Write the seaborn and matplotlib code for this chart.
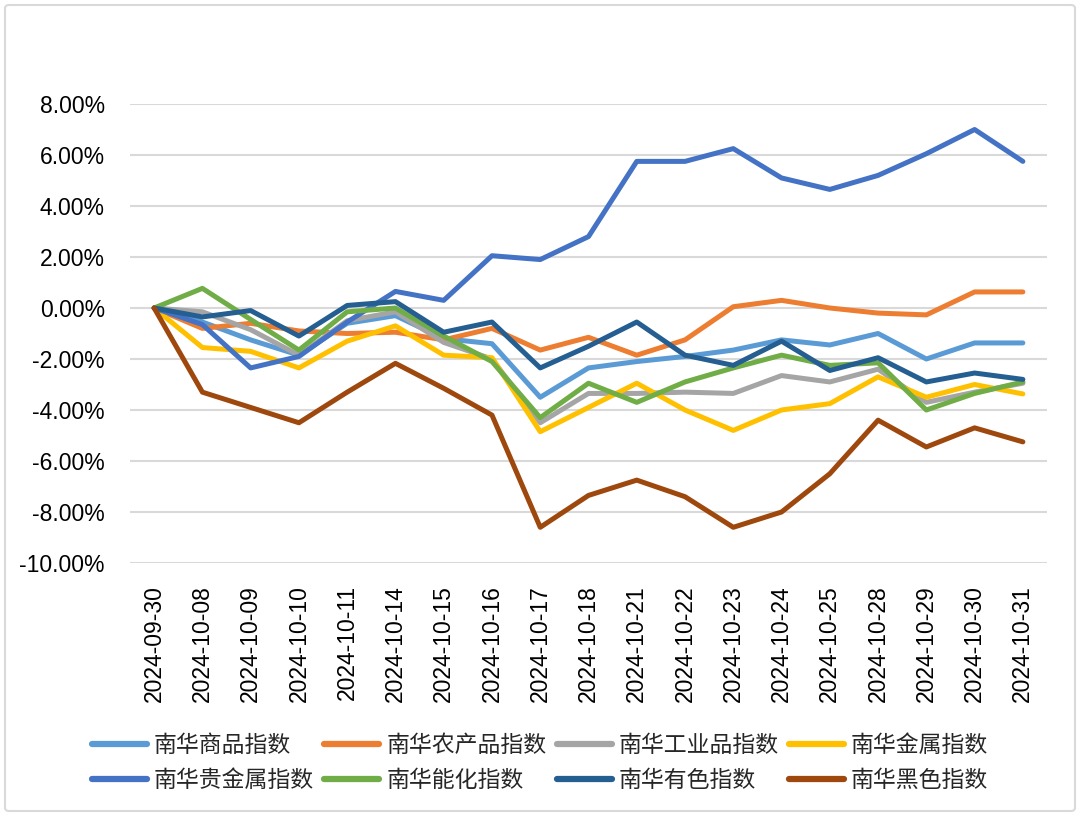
import numpy as np
import pandas as pd
import matplotlib
matplotlib.use("Agg")
import matplotlib.pyplot as plt
import matplotlib.patches as mpatches
from matplotlib.ticker import FuncFormatter
import seaborn as sns

dates = ['2024-09-30', '2024-10-08', '2024-10-09', '2024-10-10', '2024-10-11',
         '2024-10-14', '2024-10-15', '2024-10-16', '2024-10-17', '2024-10-18',
         '2024-10-21', '2024-10-22', '2024-10-23', '2024-10-24', '2024-10-25',
         '2024-10-28', '2024-10-29', '2024-10-30', '2024-10-31']

series_names = ['南华商品指数', '南华农产品指数', '南华工业品指数', '南华金属指数',
                '南华贵金属指数', '南华能化指数', '南华有色指数', '南华黑色指数']

commodity = [0, -0.55, -1.25, -1.85, -0.6, -0.3, -1.2, -1.4, -3.5, -2.35,
             -2.1, -1.9, -1.65, -1.25, -1.45, -1.0, -2.0, -1.37, -1.37]
agri = [0, -0.8, -0.6, -0.9, -1.0, -0.95, -1.25, -0.8, -1.65, -1.15,
        -1.85, -1.25, 0.05, 0.3, 0.0, -0.2, -0.27, 0.63, 0.63]
industrial = [0, -0.15, -0.85, -1.85, -0.5, -0.15, -1.35, -2.0, -4.5, -3.35,
              -3.35, -3.3, -3.35, -2.65, -2.9, -2.4, -3.7, -3.3, -2.95]
metal = [0, -1.55, -1.7, -2.35, -1.3, -0.7, -1.85, -1.95, -4.85, -3.9,
         -2.95, -4.0, -4.8, -4.0, -3.75, -2.7, -3.5, -3.0, -3.37]
precious = [0, -0.65, -2.35, -1.9, -0.55, 0.65, 0.3, 2.05, 1.9, 2.8,
            5.75, 5.75, 6.25, 5.1, 4.65, 5.2, 6.05, 7.0, 5.75]
energy_chem = [0, 0.77, -0.45, -1.65, -0.15, 0.0, -1.1, -2.1, -4.3, -2.95,
               -3.7, -2.9, -2.35, -1.85, -2.25, -2.15, -4.0, -3.35, -2.9]
nonferrous = [0, -0.35, -0.1, -1.1, 0.1, 0.25, -0.95, -0.55, -2.35, -1.5,
              -0.55, -1.85, -2.25, -1.3, -2.45, -1.95, -2.9, -2.55, -2.8]
ferrous = [0, -3.3, -3.9, -4.5, -3.3, -2.17, -3.15, -4.2, -8.6, -7.35,
           -6.75, -7.4, -8.6, -8.0, -6.5, -4.4, -5.45, -4.7, -5.25]

colors = ['#5B9BD5', '#ED7D31', '#A5A5A5', '#FFC000',
          '#4472C4', '#70AD47', '#255E91', '#9E480E']

all_values = [commodity, agri, industrial, metal, precious, energy_chem, nonferrous, ferrous]

rows = []
for name, vals in zip(series_names, all_values):
    for i, (d, v) in enumerate(zip(dates, vals)):
        rows.append({'idx': i, 'date': d, 'series': name, 'value': v})
df = pd.DataFrame(rows)

sns.set_theme(style="white")
plt.rcParams['font.family'] = ['Liberation Sans', 'Noto Sans CJK SC', 'DejaVu Sans']

fig = plt.figure(figsize=(10.8, 8.22), dpi=100)
ax = fig.add_axes([130 / 1080, 1 - 563 / 822, (1047 - 130) / 1080, (563 - 104) / 822])

sns.lineplot(data=df, x='idx', y='value', hue='series', hue_order=series_names,
             palette=colors, linewidth=3.6, ax=ax, legend=False, sort=False)
for ln in ax.get_lines():
    ln.set_solid_joinstyle('round')
    ln.set_solid_capstyle('round')

ax.set_xlim(-0.5, len(dates) - 0.5)
ax.set_ylim(-10, 8)
ax.set_yticks(np.arange(-10, 8.01, 2))
ax.yaxis.set_major_formatter(FuncFormatter(lambda v, p: f"{v:.2f}%"))
ax.set_xticks(range(len(dates)))
ax.set_xticklabels(dates, rotation=90)
ax.tick_params(axis='both', length=0, labelsize=16.5, colors='#000000')
ax.tick_params(axis='y', pad=18)
ax.tick_params(axis='x', pad=16)
ax.set_xlabel('')
ax.set_ylabel('')
ax.grid(axis='y', color='#d9d9d9', linewidth=1.5)
ax.grid(axis='x', visible=False)
ax.set_axisbelow(True)
for s in ax.spines.values():
    s.set_visible(False)

handles = [plt.Line2D([], [], color=c, linewidth=4.5, solid_capstyle='round') for c in colors]
# legend fills column-wise; reorder so entries read row by row
order = [0, 4, 1, 5, 2, 6, 3, 7]
fig.legend([handles[i] for i in order], [series_names[i] for i in order],
           ncol=4, loc='center',
           bbox_to_anchor=(540 / 1080, 1 - 763 / 822), frameon=False,
           prop={'family': ['Noto Sans CJK SC'], 'size': 16.5},
           handlelength=2.4, handletextpad=0.3, columnspacing=0.45,
           labelspacing=0.55)

border = mpatches.FancyBboxPatch((5 / 1080, 11 / 822), 1070 / 1080, 806 / 822,
                                 boxstyle='round,pad=0,rounding_size=0.004',
                                 transform=fig.transFigure, fill=False,
                                 edgecolor='#d9d9d9', linewidth=1.5)
fig.patches.append(border)

fig.savefig('out.png', dpi=100, facecolor='white')
